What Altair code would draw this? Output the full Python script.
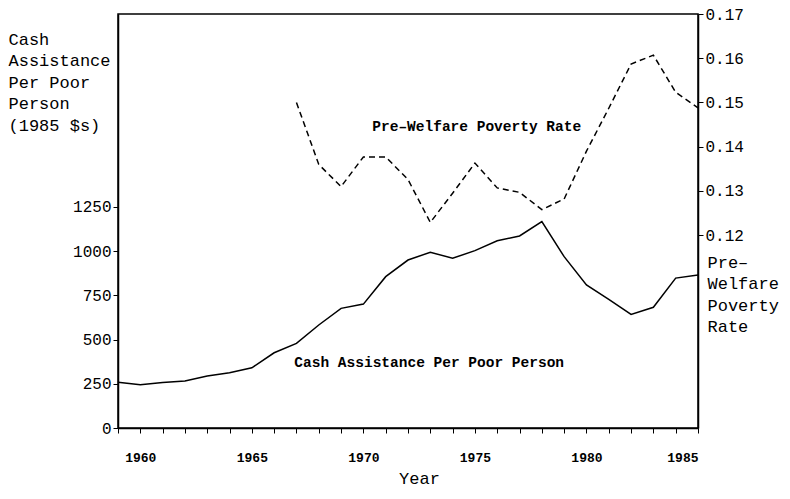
import altair as alt
import pandas as pd

# ---- data ----
years = list(range(1959, 1986))
cash = [258, 245, 257, 266, 294, 312, 340, 425, 478, 582, 676, 700, 855, 949,
        993, 959, 1002, 1058, 1085, 1166, 968, 808, 727, 642, 682, 847, 864]
rate_years = list(range(1967, 1986))
rate = [0.150, 0.136, 0.131, 0.1377, 0.1377, 0.1326, 0.1229, 0.1295, 0.1363,
        0.1307, 0.1297, 0.1258, 0.1282, 0.1390, 0.1487, 0.1587, 0.1607,
        0.1523, 0.1488]
left_ticks = [0, 250, 500, 750, 1000, 1250]
right_ticks = [0.12, 0.13, 0.14, 0.15, 0.16, 0.17]
x_ticks = list(range(1959, 1986))
left_title = ["Cash", "Assistance", "Per Poor", "Person", "(1985 $s)"]
right_title = ["Pre\u2013", "Welfare", "Poverty", "Rate"]
cash_label = ["Cash Assistance Per Poor Person"]
rate_label = ["Pre\u2013Welfare Poverty Rate"]

cash_df = pd.DataFrame({"year": years, "value": cash})
rate_df = pd.DataFrame({"year": rate_years, "value": rate})
cash_lab_df = pd.DataFrame({"year": [1972.95], "value": [366], "t": cash_label})
rate_lab_df = pd.DataFrame({"year": [1975.08], "value": [0.1445], "t": rate_label})

FONT = "Liberation Mono"

xscale = alt.Scale(domain=[1959, 1985], nice=False, zero=False)
xaxis = alt.Axis(
    values=x_ticks, format="d",
    labelExpr="datum.value % 5 == 0 ? datum.label : ''",
    title="Year", grid=False, domainColor="black", domainWidth=1.5,
    tickColor="black", tickSize=5, tickWidth=1,
    labelFont=FONT, labelFontSize=13, labelFontWeight="bold", labelColor="black",
    labelPadding=18, labelOverlap=False,
    titleFont=FONT, titleFontSize=17, titleFontWeight="normal", titleColor="black",
    titleX=301, titleY=55, titleBaseline="alphabetic", titleAlign="center",
)

lscale = alt.Scale(domain=[0, 2339], nice=False, zero=False)
laxis = alt.Axis(
    orient="left", values=left_ticks, format="d", grid=False,
    domainColor="black", domainWidth=1.5, tickColor="black", tickSize=5,
    labelFont=FONT, labelFontSize=16, labelColor="black", labelPadding=2,
    title=left_title, titleAngle=0, titleAlign="left", titleBaseline="alphabetic",
    titleX=-110, titleY=30, titleFont=FONT, titleFontSize=17,
    titleFontWeight="normal", titleLineHeight=21.5, titleColor="black",
)

rscale = alt.Scale(domain=[0.07644, 0.17], nice=False, zero=False)
raxis = alt.Axis(
    orient="right", values=right_ticks, format=".2f", grid=False,
    domainColor="black", domainWidth=1.5, tickColor="black", tickSize=5,
    labelFont=FONT, labelFontSize=16, labelColor="black", labelPadding=2,
    title=right_title, titleAngle=0, titleAlign="left", titleBaseline="alphabetic",
    titleX=9, titleY=253, titleFont=FONT, titleFontSize=17,
    titleFontWeight="normal", titleLineHeight=21.5, titleColor="black",
)

cash_line = alt.Chart(cash_df).mark_line(color="black", strokeWidth=1.5).encode(
    x=alt.X("year:Q", scale=xscale, axis=xaxis),
    y=alt.Y("value:Q", scale=lscale, axis=laxis),
)
cash_text = alt.Chart(cash_lab_df).mark_text(
    font=FONT, fontSize=14.5, fontWeight="bold", color="black", align="center", baseline="middle"
).encode(
    x=alt.X("year:Q", scale=xscale, axis=xaxis),
    y=alt.Y("value:Q", scale=lscale, axis=laxis),
    text="t:N",
)

rate_line = alt.Chart(rate_df).mark_line(color="black", strokeWidth=1.5, strokeDash=[6, 4]).encode(
    x=alt.X("year:Q", scale=xscale, axis=xaxis),
    y=alt.Y("value:Q", scale=rscale, axis=raxis),
)
rate_text = alt.Chart(rate_lab_df).mark_text(
    font=FONT, fontSize=14.5, fontWeight="bold", color="black", align="center", baseline="middle"
).encode(
    x=alt.X("year:Q", scale=xscale, axis=xaxis),
    y=alt.Y("value:Q", scale=rscale, axis=raxis),
    text="t:N",
)

left = alt.layer(cash_line, cash_text)
right = alt.layer(rate_line, rate_text)

chart = alt.layer(left, right).resolve_scale(y="independent").properties(
    width=580, height=414,
    autosize=alt.AutoSizeParams(type="none"),
    padding={"left": 110, "top": 6, "right": 84, "bottom": 63},
    background="white",
).configure_view(stroke="black", strokeWidth=1.5)

chart.save("out.html", embed_options={"renderer": "svg", "actions": False})
